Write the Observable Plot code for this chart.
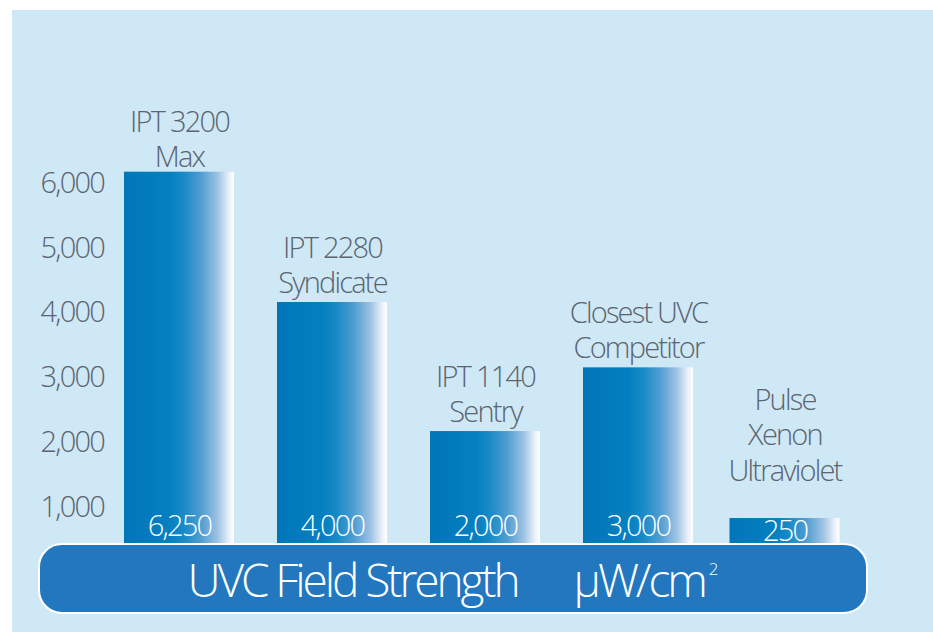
<!DOCTYPE html>
<html>
<head>
<meta charset="utf-8">
<script src="https://cdn.jsdelivr.net/npm/d3@7"></script>
<script src="https://cdn.jsdelivr.net/npm/@observablehq/plot@0.6"></script>
<style>
  html, body { margin: 0; padding: 0; background: #ffffff; }
  #wrap { position: relative; width: 933px; height: 632px; overflow: hidden; background: #ffffff; }
  #bg { position: absolute; left: 12px; top: 10px; right: 0; bottom: 0; background: #cfe8f6; }
  #chart { position: absolute; left: 0; top: 0; }
  #chart svg text { letter-spacing: -1.8px; }
  #banner {
    position: absolute; left: 38px; top: 543px; width: 826px; height: 67px;
    border: 2px solid #ffffff; border-radius: 24px; background: #2277be;
    display: flex; align-items: center; justify-content: center;
    color: #ffffff; font-family: "Open Sans", "Roboto", sans-serif;
    font-size: 46px; font-weight: 300; line-height: 1; letter-spacing: -3.1px;
  }
  #banner .gap { display: inline-block; width: 56px; }
  #banner sup { font-size: 17px; letter-spacing: 0; vertical-align: top; position: relative; top: -10px; margin-left: 4px; }
</style>
</head>
<body>
<div id="wrap">
  <div id="bg"></div>
  <div id="chart"></div>
  <div id="banner"><span>UVC Field Strength</span><span class="gap"></span><span>μW/cm</span><sup>2</sup></div>
</div>
<script>
// Product names (line breaks as in the picture)
const categories = [
  "IPT 3200\nMax",
  "IPT 2280\nSyndicate",
  "IPT 1140\nSentry",
  "Closest UVC\nCompetitor",
  "Pulse\nXenon\nUltraviolet"
];
// Values printed on the bars
const labeledValues = [6250, 4000, 2000, 3000, 250];
// Bar heights as drawn against the axis (the original is not drawn to scale)
const drawnHeights = [6180, 4165, 2170, 3155, 825];
// Y axis tick values
const yTicks = [1000, 2000, 3000, 4000, 5000, 6000];

const data = categories.map((name, i) => ({name, value: labeledValues[i], height: drawnHeights[i]}));

const FONT = "'Open Sans', Roboto, sans-serif";
const TEXT = "#5b6570";
const FS = 29;
const lastShift = -6.5; // the last bar sits slightly closer to its neighbour in the original

function gradientDefs() {
  const ns = "http://www.w3.org/2000/svg";
  const defs = document.createElementNS(ns, "defs");
  const lg = document.createElementNS(ns, "linearGradient");
  lg.setAttribute("id", "barGrad");
  lg.setAttribute("x1", "0"); lg.setAttribute("x2", "1");
  lg.setAttribute("y1", "0"); lg.setAttribute("y2", "0");
  [[0, "#0076b9"], [0.42, "#0480c0"], [0.55, "#1a8bc7"], [0.7, "#509dd1"],
   [0.85, "#9dc2e3"], [0.96, "#eef3fa"], [1, "#ffffff"]].forEach(([o, c]) => {
    const s = document.createElementNS(ns, "stop");
    s.setAttribute("offset", o);
    s.setAttribute("stop-color", c);
    lg.appendChild(s);
  });
  defs.appendChild(lg);
  return defs;
}

const fmt = d3.format(",");
const first4 = (d, i) => i < 4;
const last = (d, i) => i === 4;

const chart = Plot.plot({
  width: 933,
  height: 632,
  marginLeft: 47.5,
  marginRight: 10,
  marginTop: 151,
  marginBottom: 60.6,
  style: {background: "transparent", fontFamily: FONT, fontSize: FS + "px", fontWeight: 300},
  x: {type: "band", domain: categories, paddingInner: 0.278, paddingOuter: 0.5, axis: null},
  y: {domain: [0, 6500]},
  marks: [
    gradientDefs,
    Plot.barY(data, {filter: first4, x: "name", y: "height", fill: "url(#barGrad)"}),
    Plot.barY(data, {filter: last, x: "name", y: "height", fill: "url(#barGrad)", dx: lastShift}),
    Plot.axisY({ticks: yTicks, tickFormat: fmt, tickSize: 0, tickPadding: 7.5, textAnchor: "start",
                fill: TEXT, fontSize: FS, label: null}),
    Plot.text(data, {filter: (d, i) => i === 0, x: "name", y: "height", text: "name",
                     lineAnchor: "bottom", lineHeight: 1.22, dy: -5, fill: TEXT, fontSize: FS}),
    Plot.text(data, {filter: (d, i) => i > 0 && i < 4, x: "name", y: "height", text: "name",
                     lineAnchor: "bottom", lineHeight: 1.22, dy: -9.5, fill: TEXT, fontSize: FS}),
    Plot.text(data, {filter: last, x: "name", y: "height", text: "name",
                     lineAnchor: "bottom", lineHeight: 1.22, dy: -38, dx: lastShift, fill: TEXT, fontSize: FS}),
    Plot.text(data, {filter: first4, x: "name", frameAnchor: "bottom", text: d => fmt(d.value),
                     lineAnchor: "bottom", dy: -36, fill: "#ffffff", fontSize: FS}),
    Plot.text(data, {filter: last, x: "name", frameAnchor: "bottom", text: d => fmt(d.value),
                     lineAnchor: "bottom", dy: -31, dx: lastShift, fill: "#ffffff", fontSize: FS})
  ]
});
document.getElementById("chart").appendChild(chart);
</script>
</body>
</html>
